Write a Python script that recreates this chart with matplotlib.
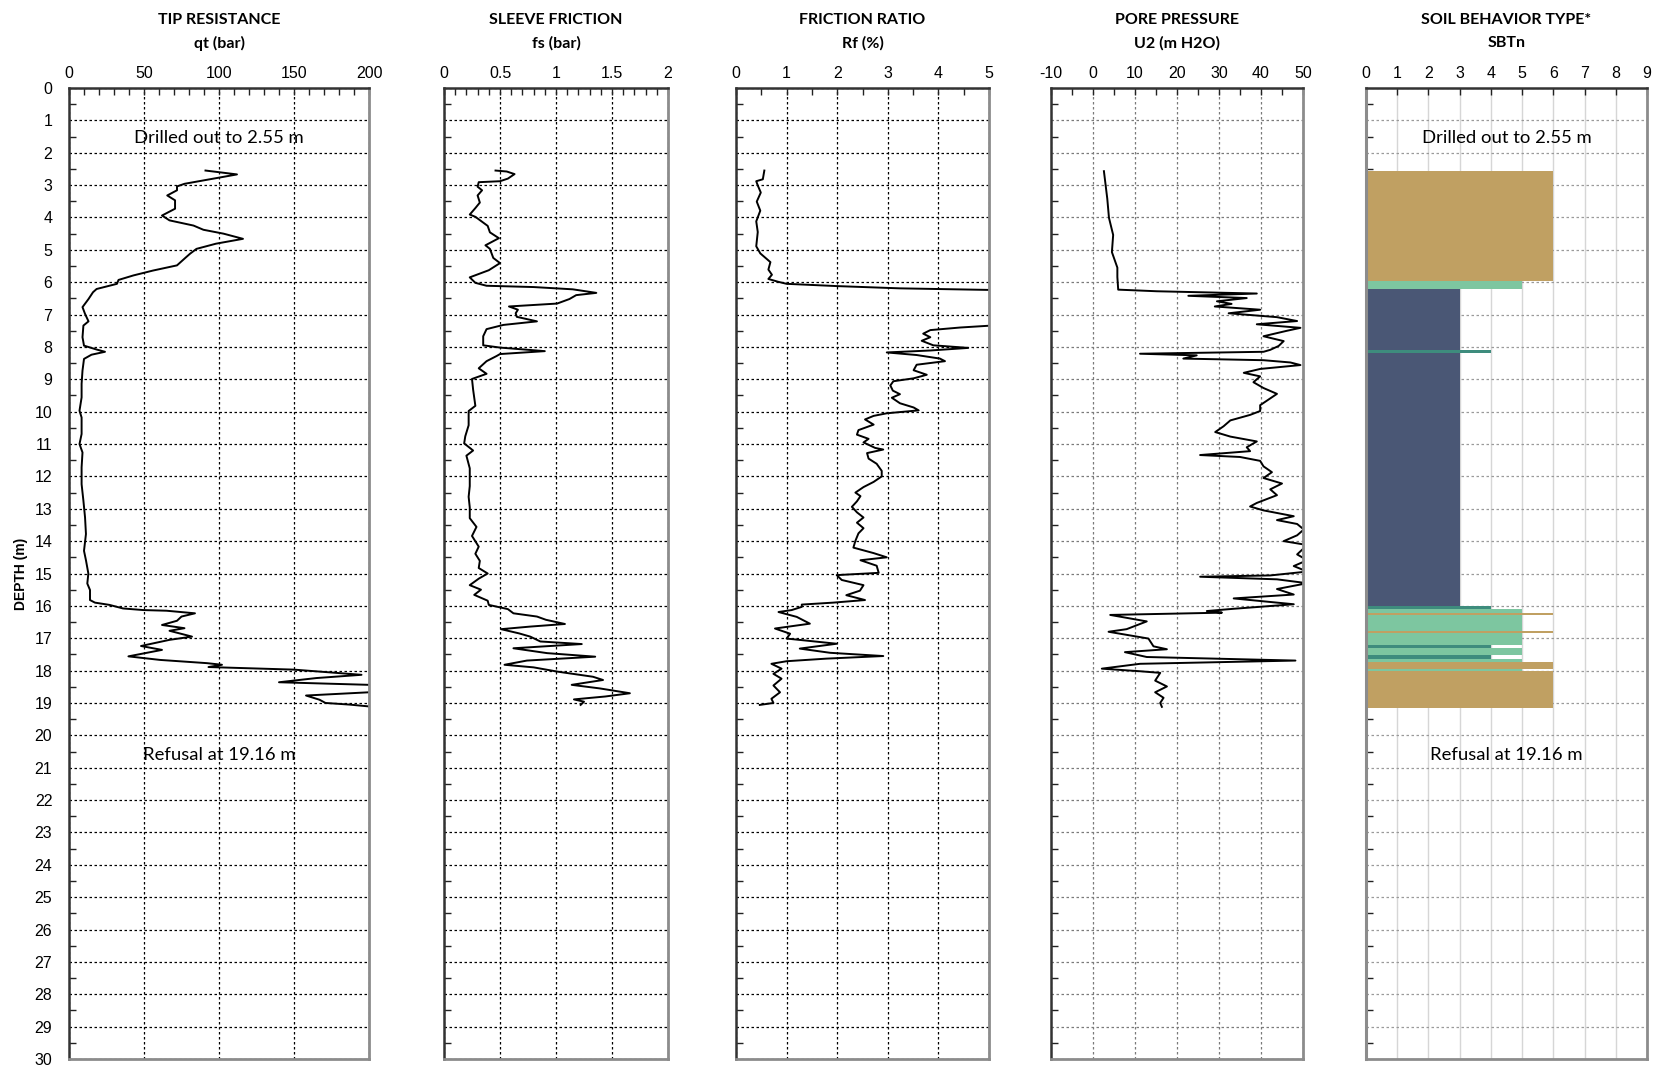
import numpy as np
import matplotlib
matplotlib.use("Agg")
import matplotlib.pyplot as plt
from matplotlib.ticker import MultipleLocator

# ---------------- data ----------------
qt_depth = [2.55, 2.67, 2.96, 3.04, 3.16, 3.32, 3.47, 3.73, 3.94, 4.09, 4.25, 4.38, 4.50, 4.66, 4.81,
            4.97, 5.12, 5.23, 5.48, 5.64, 5.79, 5.93, 6.05, 6.21, 6.31, 6.52, 6.77, 6.98, 7.21, 7.34,
            7.70, 7.96, 8.08, 8.15, 8.24, 8.37, 8.73, 9.14, 9.56, 9.97, 10.18, 10.69, 11.0, 11.26,
            11.72, 12.24, 12.75, 13.27, 13.78, 14.3, 14.59, 15.0, 15.31, 15.51, 15.82, 15.9, 15.97,
            16.08, 16.13, 16.15, 16.23, 16.33, 16.46, 16.59, 16.69, 16.77, 16.95, 17.05, 17.24, 17.36,
            17.56, 17.67, 17.77, 17.82, 17.89, 17.97, 18.13, 18.23, 18.36, 18.44, 18.55, 18.67, 18.77,
            18.9, 19.0, 19.05, 19.12]
qt_vals = [91, 112, 77, 72, 72, 65.5, 70.7, 70.7, 62, 67, 83, 89.6, 103, 116, 98,
           85, 80.7, 78, 72, 56, 43, 33, 32, 18.4, 16, 13, 9, 10.7, 13, 9.6,
           9, 10, 18.4, 24, 15, 10, 9, 8.4, 8.4, 7, 8.4, 8.4, 7, 9,
           8.4, 8.4, 9.6, 10.7, 11.3, 10, 11.3, 12.9, 12.2, 14, 14, 17.3, 27,
           36, 49.6, 65, 84, 75, 72, 62, 77, 67, 82, 67, 48, 62,
           39.6, 60.7, 92, 102, 93, 150, 195, 165, 140, 200, 212, 200, 158,
           167, 171, 187, 203]

fs_depth = [2.55, 2.58, 2.66, 2.80, 2.88, 2.91, 3.05, 3.16, 3.32, 3.54, 3.71, 3.91, 3.98, 4.26, 4.46,
            4.64, 4.86, 4.97, 5.25, 5.41, 5.63, 5.85, 6.02, 6.11, 6.15, 6.22, 6.33, 6.40, 6.52, 6.66,
            6.75, 6.85, 6.96, 7.07, 7.21, 7.32, 7.45, 7.67, 7.95, 8.02, 8.13, 8.22, 8.28, 8.44, 8.66,
            8.83, 8.99, 9.32, 9.82, 9.98, 10.42, 10.76, 10.98, 11.20, 11.36, 11.75, 12.30, 12.63, 12.96,
            13.29, 13.56, 13.84, 14.17, 14.39, 14.61, 14.83, 15.0, 15.16, 15.36, 15.5, 15.66, 15.84,
            15.97, 16.1, 16.23, 16.33, 16.43, 16.56, 16.64, 16.72, 16.85, 16.95, 17.1, 17.18, 17.31,
            17.46, 17.57, 17.69, 17.82, 17.9, 18.03, 18.19, 18.29, 18.44, 18.55, 18.7, 18.8, 18.89,
            18.96, 19.06]
fs_vals = [0.46, 0.56, 0.63, 0.57, 0.50, 0.31, 0.30, 0.34, 0.30, 0.32, 0.28, 0.23, 0.28, 0.39, 0.41,
           0.49, 0.37, 0.41, 0.44, 0.50, 0.40, 0.23, 0.28, 0.38, 0.80, 1.15, 1.36, 1.18, 1.12, 1.01,
           0.58, 0.66, 0.64, 0.65, 0.83, 0.53, 0.38, 0.35, 0.35, 0.50, 0.90, 0.50, 0.47, 0.38, 0.31,
           0.38, 0.25, 0.26, 0.28, 0.22, 0.22, 0.19, 0.18, 0.26, 0.20, 0.23, 0.23, 0.22, 0.23,
           0.23, 0.29, 0.25, 0.31, 0.28, 0.32, 0.31, 0.39, 0.31, 0.23, 0.33, 0.27, 0.39,
           0.40, 0.57, 0.62, 0.83, 0.91, 1.08, 0.77, 0.51, 0.67, 0.77, 0.86, 1.23, 0.62,
           0.92, 1.35, 0.74, 0.54, 0.80, 1.01, 1.33, 1.42, 1.14, 1.39, 1.66, 1.44, 1.16,
           1.25, 1.22]

rf_depth = [2.55, 2.82, 2.88, 3.01, 3.23, 3.51, 3.79, 4.12, 4.45, 4.89, 5.11, 5.38, 5.61, 5.77, 5.90,
            5.99, 6.05, 6.12, 6.19, 6.24, 6.30, 7.30, 7.34, 7.40, 7.48, 7.59, 7.70, 7.81, 7.95, 8.03,
            8.11, 8.17, 8.25, 8.36, 8.44, 8.55, 8.72, 8.86, 8.97, 9.06, 9.19, 9.35, 9.46, 9.57, 9.74,
            9.87, 9.96, 10.05, 10.13, 10.24, 10.40, 10.57, 10.71, 10.84, 10.95, 11.12, 11.17, 11.28,
            11.45, 11.61, 11.83, 12.0, 12.17, 12.33, 12.50, 12.61, 12.77, 12.94, 13.11, 13.27, 13.43,
            13.60, 13.76, 13.99, 14.2, 14.37, 14.50, 14.59, 14.76, 14.98, 15.05, 15.20, 15.36, 15.53,
            15.67, 15.82, 15.9, 15.96, 16.03, 16.13, 16.19, 16.34, 16.55, 16.70, 16.86, 17.01, 17.17,
            17.32, 17.45, 17.55, 17.63, 17.71, 17.79, 17.94, 18.10, 18.25, 18.46, 18.67, 18.87, 19.0,
            19.06]
rf_vals = [0.56, 0.53, 0.40, 0.43, 0.49, 0.41, 0.48, 0.40, 0.43, 0.40, 0.48, 0.68, 0.64, 0.71, 0.64,
           0.84, 1.0, 1.99, 3.24, 5.05, 6.5, 6.5, 5.05, 4.43, 3.84, 3.70, 3.84, 3.67, 3.90, 4.59,
           3.84, 2.98, 3.57, 4.03, 4.13, 3.57, 3.51, 3.77, 3.51, 3.11, 3.05, 3.10, 3.24, 3.08, 3.24,
           3.51, 3.61, 2.98, 2.72, 2.55, 2.72, 2.42, 2.39, 2.62, 2.52, 2.75, 2.91, 2.59,
           2.62, 2.78, 2.88, 2.88, 2.72, 2.52, 2.36, 2.46, 2.39, 2.29, 2.39, 2.52, 2.39,
           2.52, 2.42, 2.36, 2.32, 2.72, 2.98, 2.46, 2.78, 2.82, 1.99, 2.09, 2.52, 2.45,
           2.18, 2.55, 1.92, 1.30, 1.30, 1.10, 0.84, 1.20, 1.46, 0.77, 1.07, 1.0, 1.99,
           1.26, 1.86, 2.91, 1.79, 1.0, 0.70, 0.90, 0.74, 0.90, 0.74, 0.87, 0.70, 0.74,
           0.47]

u2_depth = [2.57, 3.42, 4.01, 4.54, 5.07, 5.55, 5.84, 6.23, 6.28, 6.35, 6.42, 6.49, 6.59, 6.67, 6.75,
            6.85, 6.96, 7.08, 7.20, 7.30, 7.41, 7.50, 7.67, 7.82, 7.97, 8.09, 8.15, 8.21, 8.26, 8.36,
            8.41, 8.48, 8.56, 8.68, 8.80, 8.91, 9.09, 9.27, 9.45, 9.59, 9.80, 9.98, 10.10, 10.27, 10.45,
            10.63, 10.77, 10.92, 11.10, 11.22, 11.34, 11.40, 11.52, 11.69, 11.87, 12.05, 12.22, 12.40,
            12.58, 12.82, 12.93, 13.05, 13.23, 13.35, 13.47, 13.64, 13.82, 14.0, 14.12, 14.41, 14.59,
            14.77, 14.94, 15.06, 15.10, 15.18, 15.30, 15.48, 15.65, 15.77, 15.95, 16.09, 16.16, 16.21,
            16.28, 16.48, 16.72, 16.80, 17.01, 17.25, 17.34, 17.43, 17.58, 17.69, 17.79, 17.94, 18.02,
            18.07, 18.31, 18.49, 18.67, 18.84, 19.0, 19.12]
u2_vals = [2.6, 3.4, 3.8, 4.8, 4.5, 5.8, 5.8, 6.0, 15.2, 39, 22.7, 36.6, 29.5, 33, 29,
           39.8, 32.3, 43.8, 48.6, 39, 49.4, 46.2, 40.6, 45.4, 44.2, 42.2, 40.6, 11.2, 24.7, 21.5,
           40.6, 47, 49.4, 39.8, 35.9, 39.8, 38.2, 40.6, 43.8, 42.2, 39.8, 39.8, 37.4, 32.7, 31.1,
           29.1, 32.7, 39, 36.6, 37.4, 25.5, 35, 39.8, 40.6, 42.6, 40.6, 45, 42.2,
           43.8, 39, 37.4, 40.6, 47.8, 43.8, 48.6, 50.2, 48.6, 45.4, 51, 48.6, 51,
           47.8, 51, 42.2, 25.5, 43.8, 51, 43.8, 47.8, 33.5, 47.8, 33.5, 27.1, 30.7,
           4.1, 12.8, 8.0, 3.7, 13.2, 14.4, 17.6, 7.6, 12.8, 48.2, 11.2, 2.1, 11.2,
           16, 14.8, 17.6, 14.8, 16.8, 16, 16.4]

# SBTn layers: top depth, bottom depth, zone
sbt_top = [2.55, 5.95, 6.20, 8.08, 8.18, 16.00, 16.10, 16.23, 16.29, 16.78, 16.84, 17.22, 17.30,
           17.53, 17.65, 17.73, 17.95, 18.02]
sbt_bot = [5.95, 6.20, 8.08, 8.18, 16.00, 16.10, 16.23, 16.29, 16.78, 16.84, 17.22, 17.30, 17.53,
           17.65, 17.73, 17.95, 18.02, 19.16]
sbt_zone = [6, 5, 3, 4, 3, 4, 5, 6, 5, 6, 5, 4, 5, 4, 5, 6, 5, 6]
zone_colors = {3: "#4A5775", 4: "#3E8C7D", 5: "#7DC6A0", 6: "#C0A062"}

titles = [("TIP RESISTANCE", "qt (bar)"), ("SLEEVE FRICTION", "fs (bar)"),
          ("FRICTION RATIO", "Rf (%)"), ("PORE PRESSURE", "U2 (m H2O)"),
          ("SOIL BEHAVIOR TYPE*", "SBTn")]
x_ranges = [(0, 200), (0, 2), (0, 5), (-10, 50), (0, 9)]
x_major = [50, 0.5, 1, 10, 1]
x_minor = [10, 0.1, 0.5, 5, 1]
x_ticklabels = [["0", "50", "100", "150", "200"], ["0", "0.5", "1", "1.5", "2"],
                ["0", "1", "2", "3", "4", "5"], ["-10", "0", "10", "20", "30", "40", "50"],
                [str(i) for i in range(10)]]
depth_ticks = list(range(0, 31))

# ---------------- layout ----------------
W, H = 1654, 1068
fig = plt.figure(figsize=(W / 100, H / 100), dpi=100)
lefts = [69, 444, 736, 1051, 1366]
rights = [369, 668, 989, 1303, 1647]
top_px, bot_px = 88, 1059

tick_font = "Liberation Sans"
title_font = "Lato"

axes = []
for i in range(5):
    ax = fig.add_axes([lefts[i] / W, 1 - bot_px / H, (rights[i] - lefts[i]) / W, (bot_px - top_px) / H])
    axes.append(ax)
    lo, hi = x_ranges[i]
    ax.set_xlim(lo, hi)
    ax.set_ylim(30, 0)
    ax.xaxis.tick_top()
    ax.xaxis.set_minor_locator(MultipleLocator(x_minor[i]))
    ax.set_xticks(np.arange(lo, hi + 1e-9, x_major[i]))
    ax.set_xticklabels(x_ticklabels[i], fontfamily=tick_font, fontsize=11.5)
    ax.set_yticks(depth_ticks)
    ax.yaxis.set_minor_locator(MultipleLocator(0.5))
    ax.tick_params(axis="both", which="both", direction="in", length=5, width=1, colors="#222222")
    ax.tick_params(axis="x", which="major", pad=5, labelcolor="black")
    ax.tick_params(axis="y", which="major", length=0)
    if i == 0:
        ax.set_yticklabels([str(d) for d in depth_ticks], fontfamily=tick_font, fontsize=11.5)
        ax.tick_params(axis="y", which="major", pad=12, labelcolor="black")
        ax.set_ylabel("DEPTH (m)", fontfamily=tick_font, fontweight="bold", fontsize=10, labelpad=5)
    else:
        ax.set_yticklabels([])
    for s in ["left", "top"]:
        ax.spines[s].set_color("#333333")
        ax.spines[s].set_linewidth(1.8)
    for s in ["right", "bottom"]:
        ax.spines[s].set_color("#8c8c8c")
        ax.spines[s].set_linewidth(2.0)
    cx = (lefts[i] + rights[i]) / 2 / W
    fig.text(cx, 1 - 20 / H, titles[i][0], ha="center", va="center", fontfamily=title_font,
             fontweight="bold", fontsize=11.5)
    fig.text(cx, 1 - 43 / H, titles[i][1], ha="center", va="center", fontfamily=title_font,
             fontweight="bold", fontsize=11.5)

# grids
for ax in axes[:3]:
    ax.grid(True, which="major", color="black", linestyle=(0, (2, 2)), linewidth=0.9)
axes[3].grid(True, which="major", color="#7a7a7a", linestyle=(0, (2, 2)), linewidth=0.9)
axes[4].xaxis.grid(True, which="major", color="#d6d6d6", linestyle="-", linewidth=1.0)
axes[4].yaxis.grid(True, which="major", color="#9a9a9a", linestyle=(0, (2, 2)), linewidth=0.9)
axes[4].spines["left"].set_color("#8c8c8c")
axes[4].spines["left"].set_linewidth(2.2)
for ax in axes:
    ax.set_axisbelow(True)

# curves
lw = 1.4
axes[0].plot(qt_vals, qt_depth, color="black", lw=lw)
axes[1].plot(fs_vals, fs_depth, color="black", lw=lw)
axes[2].plot(rf_vals, rf_depth, color="black", lw=lw)
axes[3].plot(u2_vals, u2_depth, color="black", lw=lw)

# SBT bars
for t, b, z in zip(sbt_top, sbt_bot, sbt_zone):
    axes[4].barh((t + b) / 2, z, height=(b - t), left=0, color=zone_colors[z], edgecolor="none")

# annotations
for ax, xpos in ((axes[0], 100), (axes[4], 4.5)):
    ax.text(xpos, 1.55, "Drilled out to 2.55 m", ha="center", va="center", fontfamily=title_font,
            fontsize=13.3)
    ax.text(xpos, 20.6, "Refusal at 19.16 m", ha="center", va="center", fontfamily=title_font,
            fontsize=13.3)

fig.savefig("out.png", dpi=100)
